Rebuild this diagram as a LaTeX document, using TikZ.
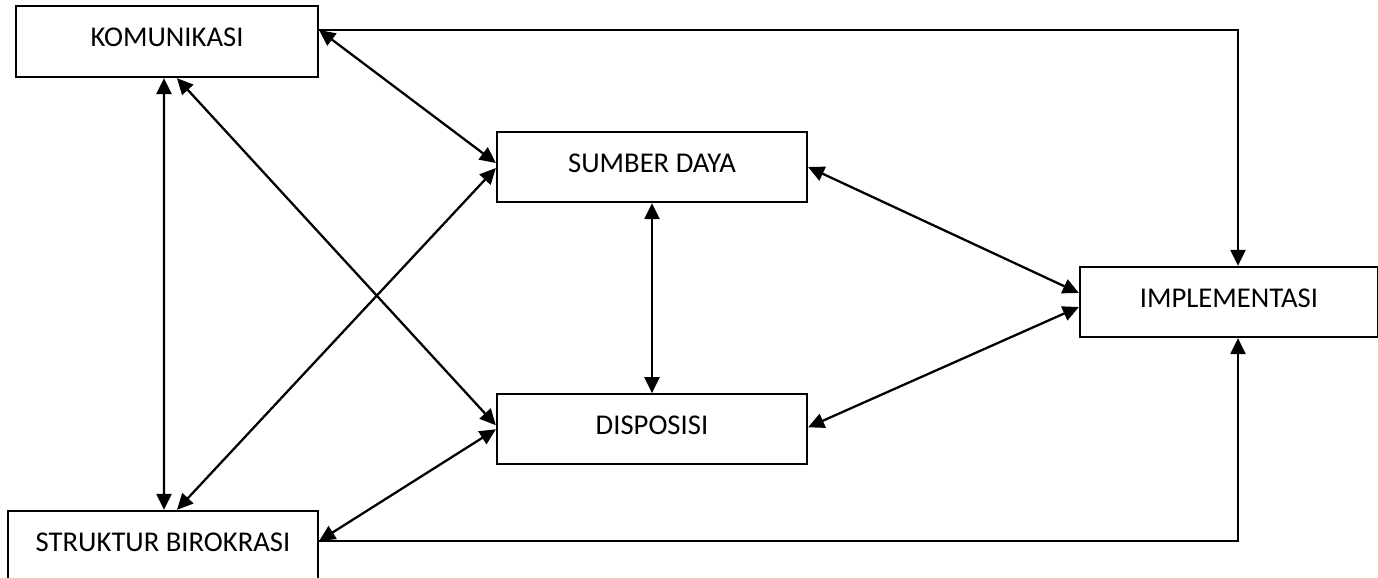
\documentclass[tikz,border=0pt]{standalone}
\usepackage{fontspec}
\setmainfont{Carlito}
\usepackage{tikz}
\usetikzlibrary{arrows.meta, positioning, calc}

\begin{document}
\begin{tikzpicture}[
    block/.style={rectangle, draw, line width=1.3pt, minimum height=1.4cm, minimum width=6.2cm,
        text depth=0.16cm, font=\fontsize{16.3}{19}\selectfont},
    link/.style={line width=1.3pt, {Triangle[length=0.32cm,width=0.3cm]}-{Triangle[length=0.32cm,width=0.3cm]}},
    flow/.style={line width=1.3pt, -{Triangle[length=0.32cm,width=0.3cm]}}
]
    \useasboundingbox (0,0) rectangle (27.56,-11.56);
    \clip (0,0) rectangle (27.56,-11.56);

    % Blocks
    \node[block, minimum width=6.04cm, minimum height=1.42cm] (kom) at (3.34,-0.83) {KOMUNIKASI};
    \node[block] (sumber) at (13.04,-3.34) {SUMBER DAYA};
    \node[block, below=3.8cm of sumber] (disposisi) {DISPOSISI};
    \node[block, minimum width=5.96cm] (impl) at (24.58,-6.04) {IMPLEMENTASI};
    \node[block] (struktur) at (3.26,-10.92) {STRUKTUR BIROKRASI};

    % Arrows
    \draw[flow] ([yshift=0.23cm]kom.east) -| ([xshift=0.18cm]impl.north);
    \draw[flow] ([yshift=0.1cm]struktur.east) -| ([xshift=0.18cm]impl.south);
    \draw[link] ([xshift=-0.06cm]kom.south) -- ([xshift=0.02cm]struktur.north);
    \draw[link] ([xshift=0.2cm]kom.south) -- ([yshift=0.08cm]disposisi.west);
    \draw[link] ([xshift=0.28cm]struktur.north) -- ([yshift=-0.02cm]sumber.west);
    \draw[link] ([yshift=0.23cm]kom.east) -- ([yshift=0.08cm]sumber.west);
    \draw[link] ([yshift=0.1cm]struktur.east) -- (disposisi.west);
    \draw[link] (sumber.south) -- (disposisi.north);
    \draw[link] (sumber.east) -- ([yshift=0.18cm]impl.west);
    \draw[link] ([yshift=0.04cm]disposisi.east) -- ([yshift=-0.1cm]impl.west);

\end{tikzpicture}
\end{document}
